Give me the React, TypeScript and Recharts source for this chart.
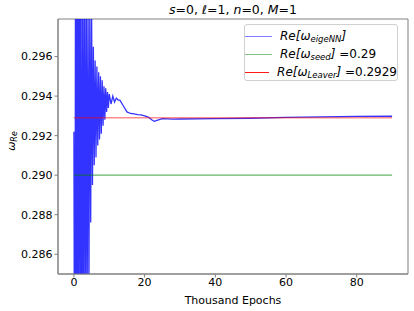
import React from 'react';
import { LineChart, Line, XAxis, YAxis, Legend, ReferenceArea } from 'recharts';

// blue curve: eigeNN prediction vs thousand epochs
const epochs = [
  0, 0.25, 0.5, 0.75, 1, 1.25, 1.5, 1.75, 2, 2.25, 2.5, 2.75, 3, 3.25, 3.5, 3.75,
  4, 4.25, 4.5, 4.75, 5, 5.25, 5.5, 5.75, 6, 6.25, 6.5, 6.75, 7, 7.25, 7.5, 7.75,
  8, 8.25, 8.5, 8.75, 9, 9.25, 9.5, 9.75, 10, 10.5, 11, 11.5, 12, 12.5, 13, 14,
  15, 16, 17, 18, 19, 20, 21, 22, 22.7, 23.5, 25, 28, 30, 40, 50, 60, 70, 80, 90,
];
const omegaNN = [
  0.2922, 0.27, 0.31, 0.27, 0.32, 0.275, 0.31, 0.28, 0.305, 0.275, 0.3, 0.282, 0.302, 0.28, 0.3, 0.283,
  0.299, 0.284, 0.2985, 0.2876, 0.2985, 0.2895, 0.2965, 0.2905, 0.2958, 0.2909, 0.2955, 0.2915, 0.2952, 0.2918, 0.295, 0.2921,
  0.2948, 0.2925, 0.2945, 0.2928, 0.2944, 0.2932, 0.2942, 0.2934, 0.2941, 0.2936, 0.294, 0.2937, 0.2939, 0.2938, 0.2938, 0.2935,
  0.2932, 0.29312, 0.2931, 0.29306, 0.29305, 0.293, 0.29294, 0.2928, 0.29272, 0.29277, 0.29286, 0.29283, 0.29284, 0.29286, 0.29288, 0.29292, 0.29295, 0.29297, 0.29298,
];
const seedValue = 0.29;
const leaverValue = 0.2929;
const xRange = [0, 90];
const xTicks = [0, 20, 40, 60, 80];
const yTicks = [0.286, 0.288, 0.29, 0.292, 0.294, 0.296];
const xDomain = [-4.5, 94.5];
const yDomain = [0.285, 0.2979];

const data = epochs.map((e, i) => ({ epoch: e, nn: omegaNN[i] }));
const flat = xRange.map((e) => ({ epoch: e, seed: seedValue, leaver: leaverValue }));

const FONT = 'DejaVu Sans, sans-serif';
const SPINE = '#808080';

function LegendBox() {
  const rows = [
    { color: '#0000ff', op: 0.5, sub: 'eigeNN', tail: '' },
    { color: '#008000', op: 0.5, sub: 'seed', tail: ' =0.29' },
    { color: '#ff0000', op: 0.9, sub: 'Leaver', tail: ' =0.2929' },
  ];
  return (
    <div style={{ border: '1px solid #d0d0d0', borderRadius: 3, background: 'rgba(255,255,255,0.8)', width: 154, height: 57, boxSizing: 'border-box', paddingTop: 2 }}>
      {rows.map((r) => (
        <div key={r.sub} style={{ display: 'flex', alignItems: 'center', height: 18, fontFamily: FONT, fontSize: 12, color: '#000' }}>
          <div style={{ width: 27, height: 0, borderTop: `1.5px solid ${r.color}`, opacity: r.op, marginLeft: 0, marginRight: 8 }} />
          <span style={{ whiteSpace: 'nowrap' }}>
            <i>Re[ω</i>
            <i style={{ fontSize: 8.5, verticalAlign: -2 }}>{r.sub}</i>
            <i>]</i>
            {r.tail}
          </span>
        </div>
      ))}
    </div>
  );
}

export default function App() {
  return (
    <div style={{ position: 'absolute', left: 0, top: 0, width: 414, height: 311, background: '#fff' }}>
      <div style={{ position: 'absolute', left: 58, width: 350, top: 2, textAlign: 'center', fontFamily: FONT, fontSize: 12.5, color: '#000' }}>
        <i>s</i>=0, <i>ℓ</i>=1, <i>n</i>=0, <i>M</i>=1
      </div>
      <div style={{ position: 'absolute', left: -8, top: 134, width: 40, textAlign: 'center', transform: 'rotate(-90deg)', fontFamily: FONT, fontSize: 11, color: '#000' }}>
        <i>ω</i><i style={{ fontSize: 8, verticalAlign: -2 }}>Re</i>
      </div>
      <LineChart width={414} height={311} margin={{ top: 19, right: 6, bottom: 0, left: 0 }}>
        <XAxis
          dataKey="epoch"
          type="number"
          domain={xDomain}
          allowDataOverflow
          ticks={xTicks}
          height={37}
          stroke={SPINE}
          tickSize={3.5}
          tickMargin={1}
          tick={{ fill: '#000', fontSize: 11, fontFamily: FONT }}
          label={{ value: 'Thousand Epochs', position: 'insideBottom', offset: 7, fill: '#000', fontSize: 11, fontFamily: FONT }}
        />
        <YAxis
          type="number"
          domain={yDomain}
          allowDataOverflow
          ticks={yTicks}
          width={58}
          stroke={SPINE}
          tickSize={3.5}
          tickMargin={2}
          tickFormatter={(v: number) => v.toFixed(3)}
          tick={{ fill: '#000', fontSize: 11, fontFamily: FONT }}
        />
        <ReferenceArea x1={xDomain[0]} x2={xDomain[1]} y1={yDomain[0]} y2={yDomain[1]} fill="none" stroke={SPINE} strokeWidth={1} />
        <Legend
          layout="horizontal"
          verticalAlign="middle"
          align="center"
          wrapperStyle={{ position: 'absolute', top: 24, left: 244, width: 154 }}
          content={() => <LegendBox />}
        />
        <Line data={data} dataKey="nn" type="linear" stroke="#0000ff" strokeOpacity={0.8} strokeWidth={1.3} dot={false} isAnimationActive={false} />
        <Line data={flat} dataKey="seed" type="linear" stroke="#008000" strokeOpacity={0.6} strokeWidth={1.3} dot={false} isAnimationActive={false} />
        <Line data={flat} dataKey="leaver" type="linear" stroke="#ff0000" strokeOpacity={0.45} strokeWidth={1.5} dot={false} isAnimationActive={false} />
      </LineChart>
    </div>
  );
}
